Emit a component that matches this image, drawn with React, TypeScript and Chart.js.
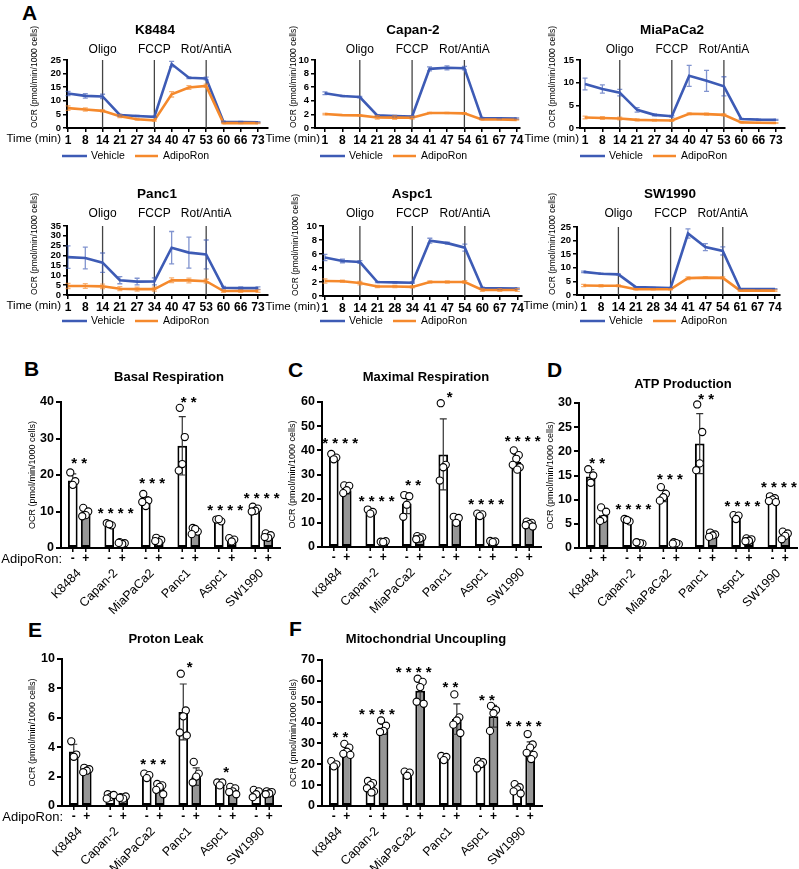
import React, { useEffect, useRef } from 'react';
import { Chart, registerables } from 'chart.js';

Chart.register(...registerables);

const FONT = "'Liberation Sans', Arial, Helvetica, sans-serif";
Chart.defaults.font.family = FONT;
Chart.defaults.color = '#000';

const BLUE = '#3d5bb5';
const ORANGE = '#f5892c';
const BLUE_ERR = 'rgba(61,91,181,0.65)';
const ORANGE_ERR = 'rgba(245,137,44,0.65)';

// ---------------- Panel A: Seahorse traces ----------------
const SERIES_NAMES = ['Vehicle', 'AdipoRon'];
const EVENT_LABELS = ['Oligo', 'FCCP', 'Rot/AntiA'];
const EVENT_INDEX = [2, 5, 8];

const timeK8484 = ['1', '8', '14', '21', '27', '34', '40', '47', '53', '60', '66', '73'];
const vehK8484 = [12.7, 11.8, 11.6, 4.8, 4.4, 4.1, 23.5, 18.5, 18.2, 2.3, 2.2, 2.1];
const vehSdK8484 = [0.8, 0.8, 0.8, 0.3, 0.2, 0.2, 1.0, 0.3, 0.5, 0.2, 0.2, 0.2];
const adiK8484 = [7.3, 6.8, 6.3, 4.3, 3.2, 2.8, 12.4, 14.9, 15.5, 1.8, 1.8, 1.8];
const adiSdK8484 = [0.8, 0.6, 0.4, 0.5, 0.3, 0.3, 1.0, 0.7, 0.6, 0.2, 0.2, 0.2];

const timeCapan2 = ['1', '8', '14', '21', '28', '34', '41', '47', '54', '61', '67', '74'];
const vehCapan2 = [5.1, 4.7, 4.55, 1.85, 1.75, 1.7, 8.7, 8.85, 8.8, 1.45, 1.42, 1.38];
const vehSdCapan2 = [0.2, 0.1, 0.1, 0.1, 0.1, 0.1, 0.3, 0.3, 0.25, 0.1, 0.1, 0.1];
const adiCapan2 = [2.05, 1.9, 1.85, 1.55, 1.52, 1.5, 2.2, 2.2, 2.15, 1.25, 1.25, 1.2];
const adiSdCapan2 = [0.1, 0.05, 0.05, 0.25, 0.25, 0.2, 0.1, 0.1, 0.1, 0.05, 0.05, 0.05];

const timeMiaPaCa2 = ['1', '8', '14', '21', '27', '34', '40', '47', '53', '60', '66', '73'];
const vehMiaPaCa2 = [9.7, 8.6, 7.8, 4.0, 2.9, 2.6, 11.5, 10.4, 9.2, 2.0, 1.85, 1.8];
const vehSdMiaPaCa2 = [1.3, 0.9, 0.7, 0.5, 0.2, 0.2, 2.3, 2.3, 2.1, 0.1, 0.1, 0.1];
const adiMiaPaCa2 = [2.3, 2.2, 2.1, 1.8, 1.7, 1.65, 3.15, 3.05, 2.9, 1.25, 1.15, 1.1];
const adiSdMiaPaCa2 = [0.3, 0.3, 0.3, 0.2, 0.2, 0.2, 0.2, 0.2, 0.2, 0.1, 0.1, 0.1];

const timePanc1 = ['1', '8', '14', '21', '27', '34', '40', '47', '53', '60', '66', '73'];
const vehPanc1 = [19.2, 18.8, 16.4, 7.5, 6.8, 6.9, 24.0, 21.5, 20.6, 3.7, 3.5, 3.5];
const vehSdPanc1 = [5.7, 5.5, 4.9, 1.8, 1.7, 1.8, 8.2, 7.9, 7.3, 0.6, 0.6, 0.6];
const adiPanc1 = [4.6, 4.6, 4.4, 3.2, 3.0, 3.0, 7.5, 7.4, 7.0, 2.0, 2.0, 2.0];
const adiSdPanc1 = [1.3, 1.2, 1.1, 1.0, 1.0, 1.0, 1.2, 1.2, 1.0, 0.6, 0.6, 0.6];

const timeAspc1 = ['1', '8', '14', '21', '28', '34', '41', '47', '54', '60', '67', '74'];
const vehAspc1 = [5.5, 5.0, 4.85, 2.0, 1.95, 1.9, 7.9, 7.55, 6.9, 1.15, 1.1, 1.05];
const vehSdAspc1 = [0.45, 0.25, 0.2, 0.1, 0.1, 0.1, 0.35, 0.15, 0.5, 0.1, 0.1, 0.1];
const adiAspc1 = [2.15, 2.1, 1.85, 1.35, 1.35, 1.3, 2.0, 2.0, 2.0, 0.85, 0.85, 0.85];
const adiSdAspc1 = [0.3, 0.15, 0.25, 0.15, 0.15, 0.15, 0.15, 0.15, 0.2, 0.2, 0.2, 0.2];

const timeSW1990 = ['1', '8', '14', '21', '28', '34', '41', '47', '54', '61', '67', '74'];
const vehSW1990 = [8.5, 7.8, 7.6, 2.9, 2.7, 2.6, 22.6, 17.6, 16.2, 2.2, 2.2, 2.2];
const vehSdSW1990 = [0.3, 0.2, 0.2, 0.1, 0.1, 0.1, 1.7, 1.3, 1.5, 0.1, 0.1, 0.1];
const adiSW1990 = [3.5, 3.4, 3.4, 2.1, 2.1, 2.1, 6.2, 6.4, 6.3, 1.6, 1.6, 1.6];
const adiSdSW1990 = [0.4, 0.4, 0.3, 0.2, 0.2, 0.2, 0.5, 0.3, 0.4, 0.3, 0.3, 0.3];

// ---------------- Panels B-F: bar charts ----------------
const cellLines = ['K8484', 'Capan-2', 'MiaPaCa2', 'Panc1', 'Aspc1', 'SW1990'];
const TREAT_SIGNS = ['-', '+'];

const basalVehMean = [18.5, 6.5, 12.7, 28.0, 7.5, 10.5];
const basalVehSd = [1.8, 0.3, 1.4, 8.0, 0.4, 0.6];
const basalAdiMean = [9.3, 1.4, 2.0, 4.5, 2.2, 3.3];
const basalAdiSd = [1.0, 0.2, 0.5, 0.7, 0.4, 0.5];
const basalVehPts = [[20.7, 18.3, 17.3], [6.8, 6.2, 6.5], [14.8, 13.0, 11.5, 12.6], [38.4, 30.4, 23.0, 21.2], [7.8, 7.3, 7.9], [11.3, 10.8, 10.2, 10.0]];
const basalAdiPts = [[11.0, 10.0, 9.0, 8.7], [1.6, 1.3, 1.1, 1.4], [2.8, 2.2, 1.6, 1.9], [5.5, 4.5, 5.2, 3.8], [2.7, 2.3, 1.8], [4.0, 3.5, 2.8, 3.0]];
const basalStars = ['**', '****', '***', '**', '****', '****'];
const basalStarY = [24.2, 10.5, 18.7, 41, 11.4, 14.8];

const maxVehMean = [37, 14.2, 18, 38.3, 13.2, 35.2];
const maxVehSd = [1.2, 0.8, 4.2, 14.7, 0.5, 3.0];
const maxAdiMean = [23.5, 2.1, 3.7, 10.8, 2.2, 9.3];
const maxAdiSd = [1.5, 0.3, 0.6, 1.3, 0.3, 0.8];
const maxVehPts = [[38.5, 37.0, 36.3], [15.5, 14.5, 13.8], [21.5, 21.0, 17.5, 12.5], [59.5, 34.0, 33.0, 27.5], [13.8, 13.5, 12.8], [40.0, 38.0, 36.5, 34.0, 33.0, 32.0]];
const maxAdiPts = [[25.5, 25.3, 23.5, 22.3], [2.2, 2.4, 2.0], [4.5, 4.0, 3.5, 3.2], [12.5, 12.0, 10.0], [2.5, 2.3, 2.0], [10.5, 10.0, 9.5, 9.0, 8.5]];
const maxStars = ['****', '****', '**', '*', '****', '****'];
const maxStarY = [44.5, 20.6, 27, 63.5, 19.2, 45.3];

const atpVehMean = [14.8, 5.7, 10.8, 21.6, 6.5, 10.0];
const atpVehSd = [1.4, 0.3, 1.2, 6.2, 0.4, 0.5];
const atpAdiMean = [6.8, 1.0, 0.9, 2.6, 1.7, 2.7];
const atpAdiSd = [1.3, 0.1, 0.2, 0.4, 0.3, 0.6];
const atpVehPts = [[16.3, 15.0, 13.5], [6.0, 5.5, 5.8], [12.6, 11.2, 10.5, 9.8], [29.7, 24.0, 17.5, 16.1], [6.8, 6.7, 6.0], [10.7, 10.3, 10.0, 9.7, 9.5]];
const atpAdiPts = [[8.4, 7.5, 6.0, 5.6], [1.1, 0.9, 1.0, 1.2], [1.2, 0.8, 1.0, 0.9], [3.2, 2.8, 2.6, 2.3], [2.0, 1.8, 1.5, 1.4], [3.4, 3.0, 2.5, 1.8]];
const atpStars = ['**', '****', '***', '**', '****', '****'];
const atpStarY = [18.4, 8.9, 15.1, 31.6, 9.4, 13.4];

const leakVehMean = [3.7, 0.7, 2.0, 6.4, 1.5, 0.9];
const leakVehSd = [0.5, 0.1, 0.15, 1.9, 0.1, 0.2];
const leakAdiMean = [2.4, 0.6, 1.2, 2.0, 1.0, 0.9];
const leakAdiSd = [0.15, 0.1, 0.25, 0.6, 0.2, 0.1];
const leakVehPts = [[4.4, 3.5, 3.35], [0.8, 0.7, 0.6, 0.5, 0.75], [2.2, 2.1, 1.9], [9.0, 6.5, 6.1, 5.0, 4.8], [1.6, 1.6, 1.4], [1.1, 1.0, 0.8, 0.6]];
const leakAdiPts = [[2.6, 2.5, 2.4, 2.3], [0.6, 0.65, 0.5, 0.55], [1.5, 1.4, 1.3, 1.1, 0.8], [3.0, 2.2, 2.0, 1.6], [1.3, 1.2, 1.0, 0.95, 0.8], [1.0, 0.95, 0.85, 0.8]];
const leakStars = ['', '', '***', '*', '*', ''];
const leakStarY = [0, 0, 3.1, 9.7, 2.55, 0];

const uncVehMean = [19.5, 9.1, 15.2, 23.0, 20.0, 8.0];
const uncVehSd = [1.2, 2.2, 1.0, 1.0, 1.5, 1.8];
const uncAdiMean = [26.2, 36.8, 55.3, 41.7, 43.0, 26.2];
const uncAdiSd = [2.2, 2.5, 5.0, 7.3, 5.2, 4.5];
const uncVehPts = [[21.5, 20.0, 19.0], [12.0, 11.0, 10.0, 8.5, 7.0, 6.5], [16.5, 16.0, 14.5], [24.0, 23.5, 22.0], [21.5, 21.0, 20.0, 18.0], [10.5, 9.0, 8.0, 7.0, 6.0]];
const uncAdiPts = [[29.8, 28.0, 26.0, 25.0, 24.5], [41.0, 38.5, 36.0, 35.5], [61.0, 59.5, 57.0, 50.0, 49.0], [53.5, 42.5, 41.0, 39.0, 35.0], [48.0, 46.0, 44.5, 36.0], [34.5, 29.5, 28.0, 25.5, 24.5, 22.5]];
const uncStars = ['**', '****', '****', '**', '**', '****'];
const uncStarY = [34.8, 46, 66, 58.8, 52.7, 40];

const Y_TITLE = 'OCR (pmol/min/1000 cells)';

// ---------------- layout specs ----------------
type Box = { x: number; y: number; w: number; h: number };

const lineSpecs = [
  { key: 'k', title: 'K8484', times: timeK8484, veh: vehK8484, vehSd: vehSdK8484, adi: adiK8484, adiSd: adiSdK8484, yMax: 25, step: 5,
    box: { x: 0, y: 0, w: 270, h: 165 }, area: { l: 67, t: 60, r: 268, b: 128 }, xMin: -0.06, xMax: 11.58,
    titleX: 155, titleY: 30, eventY: 50, yTitleX: 35, legendX: 62, legendY: 156, timeRight: 61 },
  { key: 'c', title: 'Capan-2', times: timeCapan2, veh: vehCapan2, vehSd: vehSdCapan2, adi: adiCapan2, adiSd: adiSdCapan2, yMax: 10, step: 2,
    box: { x: 255, y: 0, w: 275, h: 165 }, area: { l: 315, t: 60, r: 520, b: 128 }, xMin: -0.57, xMax: 11.19,
    titleX: 413, titleY: 30, eventY: 50, yTitleX: 294, legendX: 320, legendY: 156, timeRight: 320 },
  { key: 'm', title: 'MiaPaCa2', times: timeMiaPaCa2, veh: vehMiaPaCa2, vehSd: vehSdMiaPaCa2, adi: adiMiaPaCa2, adiSd: adiSdMiaPaCa2, yMax: 15, step: 5,
    box: { x: 515, y: 0, w: 284, h: 165 }, area: { l: 580, t: 60, r: 785, b: 128 }, xMin: -0.29, xMax: 11.52,
    titleX: 672, titleY: 30, eventY: 50, yTitleX: 553, legendX: 580, legendY: 156, timeRight: 579 },
  { key: 'p', title: 'Panc1', times: timePanc1, veh: vehPanc1, vehSd: vehSdPanc1, adi: adiPanc1, adiSd: adiSdPanc1, yMax: 35, step: 5,
    box: { x: 0, y: 165, w: 270, h: 165 }, area: { l: 67, t: 226, r: 268, b: 295 }, xMin: -0.06, xMax: 11.58,
    titleX: 157, titleY: 194, eventY: 214, yTitleX: 35, legendX: 62, legendY: 321, timeRight: 61 },
  { key: 'a', title: 'Aspc1', times: timeAspc1, veh: vehAspc1, vehSd: vehSdAspc1, adi: adiAspc1, adiSd: adiSdAspc1, yMax: 10, step: 2,
    box: { x: 255, y: 165, w: 275, h: 165 }, area: { l: 323, t: 226, r: 522, b: 296 }, xMin: -0.11, xMax: 11.27,
    titleX: 412, titleY: 194, eventY: 214, yTitleX: 296, legendX: 320, legendY: 321, timeRight: 320 },
  { key: 's', title: 'SW1990', times: timeSW1990, veh: vehSW1990, vehSd: vehSdSW1990, adi: adiSW1990, adiSd: adiSdSW1990, yMax: 25, step: 5,
    box: { x: 515, y: 165, w: 284, h: 165 }, area: { l: 577, t: 227, r: 780, b: 295 }, xMin: -0.38, xMax: 11.29,
    titleX: 670, titleY: 194, eventY: 214, yTitleX: 553, legendX: 580, legendY: 321, timeRight: 578 },
];

const barSpecs = [
  { key: 'B', title: 'Basal Respiration', vm: basalVehMean, vs: basalVehSd, am: basalAdiMean, as: basalAdiSd, vp: basalVehPts, ap: basalAdiPts, stars: basalStars, starY: basalStarY,
    yMax: 40, step: 10, box: { x: 0, y: 340, w: 285, h: 280 }, area: { l: 61, t: 402, r: 280, b: 548 }, titleX: 169, titleY: 377, yTitleX: 33, adipo: true },
  { key: 'C', title: 'Maximal Respiration', vm: maxVehMean, vs: maxVehSd, am: maxAdiMean, as: maxAdiSd, vp: maxVehPts, ap: maxAdiPts, stars: maxStars, starY: maxStarY,
    yMax: 60, step: 10, box: { x: 268, y: 340, w: 278, h: 280 }, area: { l: 322, t: 402, r: 541, b: 547 }, titleX: 426, titleY: 377, yTitleX: 293, adipo: false },
  { key: 'D', title: 'ATP Production', vm: atpVehMean, vs: atpVehSd, am: atpAdiMean, as: atpAdiSd, vp: atpVehPts, ap: atpAdiPts, stars: atpStars, starY: atpStarY,
    yMax: 30, step: 5, box: { x: 527, y: 340, w: 272, h: 280 }, area: { l: 579, t: 403, r: 797, b: 548 }, titleX: 683, titleY: 384, yTitleX: 551, adipo: false },
  { key: 'E', title: 'Proton Leak', vm: leakVehMean, vs: leakVehSd, am: leakAdiMean, as: leakAdiSd, vp: leakVehPts, ap: leakAdiPts, stars: leakStars, starY: leakStarY,
    yMax: 10, step: 2, box: { x: 0, y: 600, w: 285, h: 269 }, area: { l: 62, t: 659, r: 281, b: 806 }, titleX: 166, titleY: 639, yTitleX: 33, adipo: true },
  { key: 'F', title: 'Mitochondrial Uncoupling', vm: uncVehMean, vs: uncVehSd, am: uncAdiMean, as: uncAdiSd, vp: uncVehPts, ap: uncAdiPts, stars: uncStars, starY: uncStarY,
    yMax: 70, step: 10, box: { x: 268, y: 600, w: 278, h: 269 }, area: { l: 322, t: 660, r: 542, b: 806 }, titleX: 426, titleY: 639, yTitleX: 294, adipo: false },
];

const panelLetters = [
  { t: 'A', x: 22, y: 2 },
  { t: 'B', x: 24, y: 358 },
  { t: 'C', x: 288, y: 359 },
  { t: 'D', x: 547, y: 359 },
  { t: 'E', x: 28, y: 619 },
  { t: 'F', x: 289, y: 618 },
];

const JITTER = [-2.5, 2.5, 0, -3.5, 3.5, 1];

// ---------------- chart builders ----------------
function buildLineConfig(s: any) {
  const ox = s.box.x, oy = s.box.y;
  const A = { l: s.area.l - ox, t: s.area.t - oy, r: s.area.r - ox, b: s.area.b - oy };
  const tSize = 8.5;
  const padLeft = s.yTitleX - ox - (tSize * 1.2) / 2;
  const plugin = {
    id: 'lineDecor',
    beforeDatasetsDraw(chart: any) {
      const { ctx, chartArea, scales } = chart;
      ctx.save();
      ctx.strokeStyle = '#444';
      ctx.lineWidth = 1.3;
      EVENT_INDEX.forEach((idx) => {
        const x = scales.x.getPixelForValue(idx);
        ctx.beginPath();
        ctx.moveTo(x, chartArea.top);
        ctx.lineTo(x, chartArea.bottom);
        ctx.stroke();
      });
      ctx.restore();
    },
    afterDatasetsDraw(chart: any) {
      const { ctx, scales } = chart;
      ctx.save();
      chart.data.datasets.forEach((ds: any, di: number) => {
        const meta = chart.getDatasetMeta(di);
        ctx.strokeStyle = di === 0 ? BLUE_ERR : ORANGE_ERR;
        ctx.lineWidth = 1.3;
        meta.data.forEach((pt: any, i: number) => {
          const v = ds.data[i].y;
          const sd = ds.sd[i];
          const y1 = scales.y.getPixelForValue(v + sd);
          const y2 = scales.y.getPixelForValue(Math.max(v - sd, 0));
          ctx.beginPath();
          ctx.moveTo(pt.x, y1); ctx.lineTo(pt.x, y2);
          ctx.moveTo(pt.x - 2.5, y1); ctx.lineTo(pt.x + 2.5, y1);
          ctx.moveTo(pt.x - 2.5, y2); ctx.lineTo(pt.x + 2.5, y2);
          ctx.stroke();
        });
      });
      ctx.restore();
    },
    afterDraw(chart: any) {
      const { ctx, chartArea, scales } = chart;
      ctx.save();
      ctx.fillStyle = '#000';
      ctx.textBaseline = 'middle';
      ctx.textAlign = 'center';
      ctx.font = `bold 13.5px ${FONT}`;
      ctx.fillText(s.title, s.titleX - ox, s.titleY - oy);
      ctx.font = `12px ${FONT}`;
      EVENT_INDEX.forEach((idx, k) => {
        ctx.fillText(EVENT_LABELS[k], scales.x.getPixelForValue(idx), s.eventY - oy);
      });
      ctx.textAlign = 'right';
      ctx.font = `11.5px ${FONT}`;
      ctx.fillText('Time (min)', s.timeRight - ox, chartArea.bottom + 11);
      // legend
      const lx = s.legendX - ox, ly = s.legendY - oy;
      ctx.lineWidth = 2.5;
      ctx.textAlign = 'left';
      ctx.font = `10.5px ${FONT}`;
      ctx.strokeStyle = BLUE;
      ctx.beginPath(); ctx.moveTo(lx, ly); ctx.lineTo(lx + 25, ly); ctx.stroke();
      ctx.fillText(SERIES_NAMES[0], lx + 29, ly);
      ctx.strokeStyle = ORANGE;
      ctx.beginPath(); ctx.moveTo(lx + 73, ly); ctx.lineTo(lx + 96, ly); ctx.stroke();
      ctx.fillText(SERIES_NAMES[1], lx + 101, ly);
      ctx.restore();
    },
  };
  const times: string[] = s.times;
  return {
    type: 'line',
    data: {
      datasets: [
        { label: SERIES_NAMES[0], data: s.veh.map((v: number, i: number) => ({ x: i, y: v })), sd: s.vehSd,
          borderColor: BLUE, backgroundColor: BLUE, borderWidth: 2.6, pointRadius: 0, tension: 0, order: 1 },
        { label: SERIES_NAMES[1], data: s.adi.map((v: number, i: number) => ({ x: i, y: v })), sd: s.adiSd,
          borderColor: ORANGE, backgroundColor: ORANGE, borderWidth: 2.6, pointRadius: 0, tension: 0, order: 0 },
      ],
    },
    options: {
      responsive: false,
      maintainAspectRatio: false,
      animation: false,
      devicePixelRatio: 1,
      layout: { padding: { top: A.t, right: s.box.w - A.r, left: padLeft, bottom: 0 } },
      plugins: { legend: { display: false }, tooltip: { enabled: false }, title: { display: false } },
      scales: {
        x: {
          type: 'linear', min: s.xMin, max: s.xMax,
          afterBuildTicks: (sc: any) => { sc.ticks = times.map((_, i) => ({ value: i })); },
          afterFit: (sc: any) => { sc.height = s.box.h - A.b; sc.paddingLeft = 0; sc.paddingRight = 0; },
          ticks: { callback: (v: any) => times[v] ?? '', autoSkip: false, maxRotation: 0, minRotation: 0, padding: 1,
            font: { size: 12, weight: 'bold', family: FONT }, color: '#000' },
          grid: { display: true, drawOnChartArea: false, drawTicks: true, tickLength: 4, color: '#000', lineWidth: 1.5 },
          border: { display: true, color: '#000', width: 2 },
        },
        y: {
          min: 0, max: s.yMax,
          afterFit: (sc: any) => { sc.width = A.l - padLeft; sc.paddingTop = 0; sc.paddingBottom = 0; },
          ticks: { stepSize: s.step, autoSkip: false, padding: 2, font: { size: 9.5, weight: 'bold', family: FONT }, color: '#000' },
          grid: { display: true, drawOnChartArea: false, drawTicks: true, tickLength: 4, color: '#000', lineWidth: 1.5 },
          border: { display: true, color: '#000', width: 2 },
          title: { display: true, text: Y_TITLE, align: 'start', padding: 0, color: '#000', font: { size: tSize, family: FONT } },
        },
      },
    },
    plugins: [plugin],
  };
}

function buildBarConfig(s: any) {
  const ox = s.box.x, oy = s.box.y;
  const A = { l: s.area.l - ox, t: s.area.t - oy, r: s.area.r - ox, b: s.area.b - oy };
  const tSize = 9;
  const padLeft = s.yTitleX - ox - (tSize * 1.2) / 2;
  const plugin = {
    id: 'barDecor',
    afterDatasetsDraw(chart: any) {
      const { ctx, scales } = chart;
      ctx.save();
      chart.data.datasets.forEach((ds: any, di: number) => {
        const meta = chart.getDatasetMeta(di);
        meta.data.forEach((bar: any, j: number) => {
          const x = bar.x;
          const m = ds.data[j];
          const sd = ds.sd[j];
          const yT = scales.y.getPixelForValue(m + sd);
          const yB = scales.y.getPixelForValue(Math.max(m - sd, 0));
          ctx.strokeStyle = '#333';
          ctx.lineWidth = 1.2;
          ctx.beginPath();
          ctx.moveTo(x, yT); ctx.lineTo(x, yB);
          ctx.moveTo(x - 3.5, yT); ctx.lineTo(x + 3.5, yT);
          ctx.moveTo(x - 3.5, yB); ctx.lineTo(x + 3.5, yB);
          ctx.stroke();
          ds.pts[j].forEach((v: number, k: number) => {
            const px = x + JITTER[k % JITTER.length];
            const py = scales.y.getPixelForValue(v);
            ctx.beginPath();
            ctx.arc(px, py, 3.6, 0, Math.PI * 2);
            ctx.fillStyle = '#fff';
            ctx.fill();
            ctx.strokeStyle = '#000';
            ctx.lineWidth = 1.1;
            ctx.stroke();
          });
        });
      });
      ctx.restore();
    },
    afterDraw(chart: any) {
      const { ctx, chartArea, scales } = chart;
      const m0 = chart.getDatasetMeta(0);
      const m1 = chart.getDatasetMeta(1);
      ctx.save();
      ctx.fillStyle = '#000';
      ctx.strokeStyle = '#000';
      ctx.textAlign = 'center';
      ctx.textBaseline = 'middle';
      [m0, m1].forEach((meta: any, di: number) => {
        meta.data.forEach((bar: any) => {
          ctx.lineWidth = 1.5;
          ctx.beginPath();
          ctx.moveTo(bar.x, chartArea.bottom);
          ctx.lineTo(bar.x, chartArea.bottom + 4);
          ctx.stroke();
          ctx.font = `bold 12px ${FONT}`;
          ctx.fillText(TREAT_SIGNS[di], bar.x, chartArea.bottom + 11);
        });
      });
      if (s.adipo) {
        ctx.textAlign = 'right';
        ctx.font = `13px ${FONT}`;
        ctx.fillText('AdipoRon:', chartArea.left + 1, chartArea.bottom + 11);
      }
      // title
      ctx.textAlign = 'center';
      ctx.font = `bold 13px ${FONT}`;
      ctx.fillText(s.title, s.titleX - ox, s.titleY - oy);
      // significance stars
      ctx.font = `bold 15px ${FONT}`;
      ctx.textBaseline = 'alphabetic';
      s.stars.forEach((st: string, j: number) => {
        if (!st) return;
        const cx = (m0.data[j].x + m1.data[j].x) / 2;
        const cy = scales.y.getPixelForValue(s.starY[j]) + 8.7;
        const n = st.length;
        for (let k = 0; k < n; k++) {
          ctx.fillText('*', cx + (k - (n - 1) / 2) * 10, cy);
        }
      });
      ctx.restore();
    },
  };
  const barCommon = { borderColor: '#000', borderWidth: 2, categoryPercentage: 0.71, barPercentage: 0.75, borderSkipped: false };
  return {
    type: 'bar',
    data: {
      labels: cellLines,
      datasets: [
        { label: TREAT_SIGNS[0], data: s.vm, sd: s.vs, pts: s.vp, backgroundColor: '#ffffff', ...barCommon },
        { label: TREAT_SIGNS[1], data: s.am, sd: s.as, pts: s.ap, backgroundColor: '#969696', ...barCommon },
      ],
    },
    options: {
      responsive: false,
      maintainAspectRatio: false,
      animation: false,
      devicePixelRatio: 1,
      layout: { padding: { top: A.t, right: s.box.w - A.r, left: padLeft, bottom: 0 } },
      plugins: { legend: { display: false }, tooltip: { enabled: false }, title: { display: false } },
      scales: {
        x: {
          afterFit: (sc: any) => { sc.height = s.box.h - A.b; sc.paddingLeft = 0; sc.paddingRight = 0; },
          ticks: { autoSkip: false, maxRotation: 45, minRotation: 45, padding: 18, font: { size: 12.5, family: FONT }, color: '#000' },
          grid: { display: false, drawTicks: false },
          border: { display: true, color: '#000', width: 2 },
        },
        y: {
          min: 0, max: s.yMax,
          afterFit: (sc: any) => { sc.width = A.l - padLeft; sc.paddingTop = 0; sc.paddingBottom = 0; },
          ticks: { stepSize: s.step, autoSkip: false, padding: 2, font: { size: 12.5, weight: 'bold', family: FONT }, color: '#000' },
          grid: { display: true, drawOnChartArea: false, drawTicks: true, tickLength: 5, color: '#000', lineWidth: 2 },
          border: { display: true, color: '#000', width: 2 },
          title: { display: true, text: Y_TITLE, padding: 0, color: '#000', font: { size: tSize, family: FONT } },
        },
      },
    },
    plugins: [plugin],
  };
}

function ChartCanvas({ build, box }: { build: () => any; box: Box }) {
  const ref = useRef<HTMLCanvasElement | null>(null);
  useEffect(() => {
    if (!ref.current) return;
    const chart = new Chart(ref.current, build());
    return () => chart.destroy();
  }, []);
  return (
    <canvas
      ref={ref}
      width={box.w}
      height={box.h}
      style={{ position: 'absolute', left: box.x, top: box.y, width: box.w, height: box.h }}
    />
  );
}

export default function App() {
  return (
    <div style={{ position: 'absolute', left: 0, top: 0, width: 799, height: 869, background: '#fff', overflow: 'hidden', fontFamily: FONT }}>
      {panelLetters.map((p) => (
        <div key={p.t} style={{ position: 'absolute', left: p.x, top: p.y, fontSize: 21, lineHeight: '21px', fontWeight: 'bold', color: '#000' }}>
          {p.t}
        </div>
      ))}
      {lineSpecs.map((s) => (
        <ChartCanvas key={s.key} box={s.box} build={() => buildLineConfig(s)} />
      ))}
      {barSpecs.map((s) => (
        <ChartCanvas key={s.key} box={s.box} build={() => buildBarConfig(s)} />
      ))}
    </div>
  );
}
